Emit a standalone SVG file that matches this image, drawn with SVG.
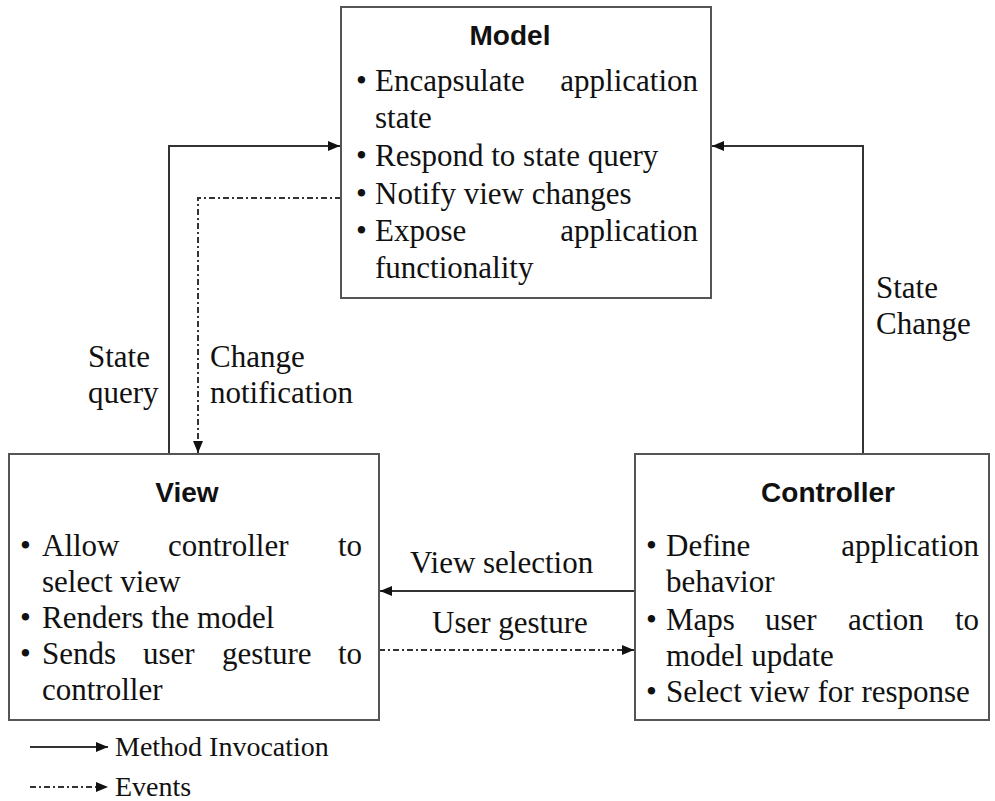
<svg xmlns="http://www.w3.org/2000/svg" width="995" height="801" viewBox="0 0 995 801">
<defs>
<style>
.box{fill:#fff;stroke:#555;stroke-width:2}
.t{font-family:"Liberation Serif","Times New Roman",serif;font-size:31px;fill:#111}
.lg{font-family:"Liberation Serif","Times New Roman",serif;font-size:28px;fill:#111}
.h{font-family:"Liberation Sans",Arial,sans-serif;font-size:28px;font-weight:bold;fill:#111}
.solid{fill:none;stroke:#333;stroke-width:2}
.dd{fill:none;stroke:#333;stroke-width:2;stroke-dasharray:6 3 2 3}
</style>
<marker id="ah" viewBox="0 0 12 10" refX="12" refY="5" markerWidth="12" markerHeight="10" markerUnits="userSpaceOnUse" orient="auto">
<path d="M0,0 L12,5 L0,10 Z" fill="#111"/>
</marker>
</defs>
<rect width="995" height="801" fill="#fff"/>
<g id="connectors">
<polyline class="solid" points="169,454 169,146 340,146" marker-end="url(#ah)"/>
<polyline class="dd" points="341,198 198,198 198,453" marker-end="url(#ah)"/>
<polyline class="solid" points="863,454 863,146 712,146" marker-end="url(#ah)"/>
<line class="solid" x1="635" y1="591" x2="380" y2="591" marker-end="url(#ah)"/>
<line class="dd" x1="379" y1="650" x2="634" y2="650" marker-end="url(#ah)"/>
<text class="t" x="88" y="367">State</text>
<text class="t" x="88" y="403">query</text>
<text class="t" x="210" y="367">Change</text>
<text class="t" x="210" y="403">notification</text>
<text class="t" x="876" y="298">State</text>
<text class="t" x="876" y="334">Change</text>
<text class="t" x="410" y="573">View selection</text>
<text class="t" x="432" y="633">User gesture</text>
</g>
<g id="model">
<rect class="box" x="341" y="7" width="370" height="291"/>
<text class="h" x="510" y="45" text-anchor="middle">Model</text>
<text class="t" x="356" y="91">•</text>
<text class="t" x="375" y="91">Encapsulate</text>
<text class="t" x="698" y="91" text-anchor="end">application</text>
<text class="t" x="375" y="128">state</text>
<text class="t" x="356" y="166">•</text>
<text class="t" x="375" y="166">Respond to state query</text>
<text class="t" x="356" y="204">•</text>
<text class="t" x="375" y="204">Notify view changes</text>
<text class="t" x="356" y="241">•</text>
<text class="t" x="375" y="241">Expose</text>
<text class="t" x="698" y="241" text-anchor="end">application</text>
<text class="t" x="375" y="278">functionality</text>
</g>
<g id="view">
<rect class="box" x="9" y="454" width="370" height="266"/>
<text class="h" x="187" y="502" text-anchor="middle">View</text>
<text class="t" x="20" y="556">•</text>
<text class="t" x="42" y="556">Allow</text>
<text class="t" x="168" y="556">controller</text>
<text class="t" x="362" y="556" text-anchor="end">to</text>
<text class="t" x="42" y="592">select view</text>
<text class="t" x="20" y="628">•</text>
<text class="t" x="42" y="628">Renders the model</text>
<text class="t" x="20" y="664">•</text>
<text class="t" x="42" y="664">Sends</text>
<text class="t" x="143" y="664">user</text>
<text class="t" x="222" y="664">gesture</text>
<text class="t" x="362" y="664" text-anchor="end">to</text>
<text class="t" x="42" y="700">controller</text>
</g>
<g id="controller">
<rect class="box" x="635" y="454" width="354" height="266"/>
<text class="h" x="828" y="502" text-anchor="middle">Controller</text>
<text class="t" x="646" y="556">•</text>
<text class="t" x="666" y="556">Define</text>
<text class="t" x="979" y="556" text-anchor="end">application</text>
<text class="t" x="666" y="592">behavior</text>
<text class="t" x="646" y="630">•</text>
<text class="t" x="666" y="630">Maps</text>
<text class="t" x="765" y="630">user</text>
<text class="t" x="848" y="630">action</text>
<text class="t" x="979" y="630" text-anchor="end">to</text>
<text class="t" x="666" y="666">model update</text>
<text class="t" x="646" y="702">•</text>
<text class="t" x="666" y="702">Select view for response</text>
</g>
<g id="legend">
<line class="solid" x1="30" y1="747" x2="108" y2="747" marker-end="url(#ah)"/>
<text class="lg" x="115" y="756">Method Invocation</text>
<line class="dd" x1="30" y1="787" x2="108" y2="787" marker-end="url(#ah)"/>
<text class="lg" x="115" y="796">Events</text>
</g>
</svg>
